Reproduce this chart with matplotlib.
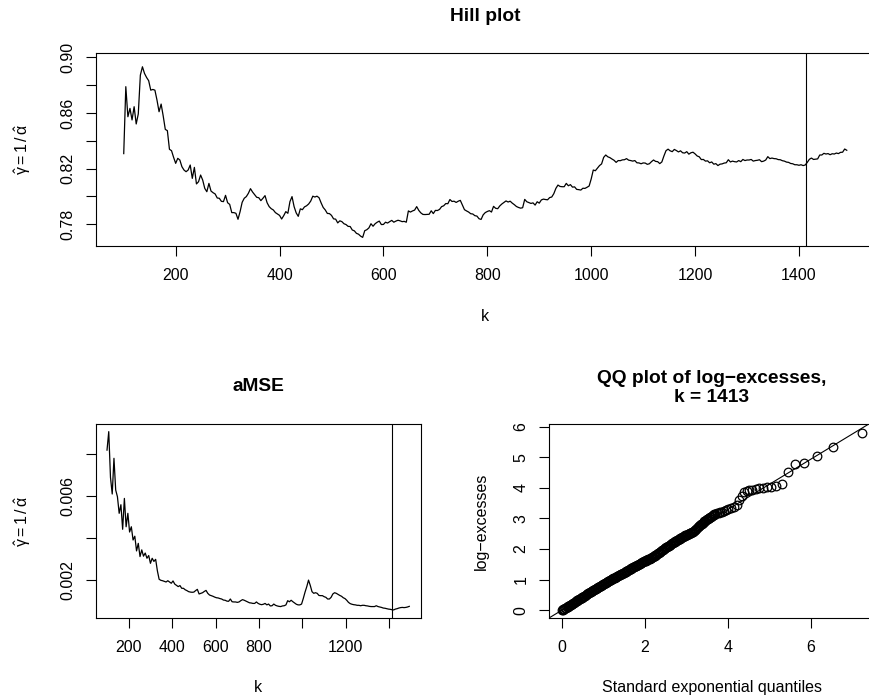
import numpy as np
import matplotlib
matplotlib.use("Agg")
import matplotlib.pyplot as plt

# === Hill estimates, k = 100, 104, ..., 1492 ===
hill_k_start = 100
hill_k_step = 4
hill_gamma = [
    0.8308, 0.8789, 0.8573, 0.8633, 0.8550, 0.8645, 0.8521, 0.8593, 0.8872, 0.8932,
    0.8884, 0.8855, 0.8832, 0.8764, 0.8769, 0.8764, 0.8693, 0.8609, 0.8664, 0.8578,
    0.8482, 0.8473, 0.8339, 0.8329, 0.8281, 0.8238, 0.8274, 0.8262, 0.8214, 0.8190,
    0.8178, 0.8190, 0.8226, 0.8130, 0.8209, 0.8090, 0.8106, 0.8154, 0.8118, 0.8058,
    0.8034, 0.8094, 0.8039, 0.8027, 0.8018, 0.7989, 0.7987, 0.7965, 0.7963, 0.8008,
    0.7955, 0.7943, 0.7884, 0.7884, 0.7879, 0.7836, 0.7891, 0.7958, 0.7987, 0.7999,
    0.8023, 0.8056, 0.8032, 0.8013, 0.7994, 0.7991, 0.7970, 0.7987, 0.8006, 0.7955,
    0.7927, 0.7912, 0.7903, 0.7884, 0.7874, 0.7864, 0.7838, 0.7862, 0.7891,
    # k = 416 ...
    0.7879, 0.7963, 0.7999, 0.7927, 0.7882, 0.7857, 0.7911, 0.7905, 0.7925, 0.7933,
    0.7946, 0.7967, 0.8002, 0.7996, 0.8002, 0.7991, 0.7954, 0.7921, 0.7903, 0.7878,
    0.7877, 0.7864, 0.7839, 0.7837, 0.7810, 0.7825, 0.7819, 0.7804, 0.7798, 0.7785,
    0.7784, 0.7759, 0.7753, 0.7735, 0.7729, 0.7715, 0.7706, 0.7754, 0.7761, 0.7774,
    0.7804, 0.7786, 0.7804, 0.7815, 0.7823, 0.7798, 0.7799, 0.7815, 0.7809, 0.7819,
    0.7828, 0.7815, 0.7823, 0.7829, 0.7825, 0.7819, 0.7821, 0.7815, 0.7896, 0.7888,
    0.7896, 0.7902, 0.7927, 0.7900, 0.7882, 0.7871, 0.7870, 0.7871, 0.7872, 0.7897,
    0.7877, 0.7900, 0.7899, 0.7907, 0.7927, 0.7933, 0.7949, 0.7948, 0.7978, 0.7964,
    0.7966, 0.7957, 0.7966, 0.7972, 0.7939, 0.7905, 0.7896,
    # k = 764 ...
    0.7888, 0.7876, 0.7874, 0.7862, 0.7859, 0.7840, 0.7835, 0.7868, 0.7884, 0.7892,
    0.7898, 0.7888, 0.7929, 0.7915, 0.7912, 0.7932, 0.7946, 0.7957, 0.7968, 0.7960,
    0.7966, 0.7952, 0.7941, 0.7928, 0.7921, 0.7916, 0.7919, 0.7979, 0.7962, 0.7956,
    0.7950, 0.7954, 0.7938, 0.7962, 0.7952, 0.7975, 0.7981, 0.7978, 0.7976, 0.7992,
    0.7996, 0.8020, 0.8058, 0.8082, 0.8072, 0.8070, 0.8070, 0.8094, 0.8077, 0.8085,
    0.8067, 0.8069, 0.8051, 0.8049, 0.8046, 0.8059, 0.8058, 0.8066, 0.8075, 0.8126,
    0.8190, 0.8185, 0.8203, 0.8222, 0.8234, 0.8281, 0.8298, 0.8285, 0.8279, 0.8269,
    0.8260, 0.8245, 0.8258, 0.8257, 0.8263, 0.8264, 0.8272, 0.8261, 0.8258, 0.8254,
    0.8258, 0.8242, 0.8241, 0.8235, 0.8241, 0.8240, 0.8231, 0.8235,
    # k = 1116 ...
    0.8250, 0.8262, 0.8252, 0.8250, 0.8236, 0.8248, 0.8291, 0.8329, 0.8340, 0.8328,
    0.8322, 0.8338, 0.8330, 0.8320, 0.8328, 0.8314, 0.8312, 0.8322, 0.8304, 0.8314,
    0.8318, 0.8306, 0.8291, 0.8285, 0.8265, 0.8266, 0.8254, 0.8256, 0.8242, 0.8248,
    0.8232, 0.8236, 0.8222, 0.8232, 0.8234, 0.8240, 0.8242, 0.8264, 0.8248, 0.8254,
    0.8250, 0.8248, 0.8258, 0.8250, 0.8266, 0.8258, 0.8262, 0.8262, 0.8266, 0.8254,
    0.8258, 0.8260, 0.8264, 0.8250, 0.8254, 0.8262, 0.8286, 0.8272, 0.8276, 0.8272,
    0.8271, 0.8265, 0.8264, 0.8257, 0.8254, 0.8247, 0.8245, 0.8237, 0.8235, 0.8228,
    0.8228, 0.8224, 0.8228, 0.8222, 0.8226, 0.8245, 0.8267, 0.8276, 0.8266, 0.8268,
    0.8270, 0.8298, 0.8298, 0.8310, 0.8305, 0.8308, 0.8300, 0.8307, 0.8305, 0.8312,
    0.8308, 0.8317, 0.8318, 0.8341, 0.8332,
]

# === aMSE, k = 100, 108, ..., 1492 ===
amse_k_start = 100
amse_k_step = 8
amse_vals = [
    0.00820, 0.00908, 0.00690, 0.00611, 0.00781, 0.00630, 0.00598, 0.00519, 0.00560, 0.00443,
    0.00590, 0.00455, 0.00519, 0.00430, 0.00455, 0.00392, 0.00410, 0.00340, 0.00376, 0.00313,
    0.00345, 0.00315, 0.00330, 0.00305, 0.00318, 0.00281, 0.00305, 0.00290, 0.00300, 0.00245,
    0.00205, 0.00200, 0.00198, 0.00195, 0.00192, 0.00198, 0.00192, 0.00186, 0.00197, 0.00182,
    0.00176, 0.00170, 0.00175, 0.00162, 0.00162, 0.00155, 0.00151, 0.00146, 0.00144, 0.00143,
    0.00144, 0.00151, 0.00157, 0.00135, 0.00138, 0.00141, 0.00147, 0.00152, 0.00138, 0.00130,
    0.00127, 0.00124, 0.00120, 0.00117, 0.00116, 0.00113, 0.00111, 0.00106, 0.00105, 0.00101,
    0.00100, 0.00111, 0.00098, 0.00097, 0.00097, 0.00095, 0.00097, 0.00103, 0.00108, 0.00105,
    0.00101, 0.00097, 0.00093, 0.00092, 0.00090, 0.00090, 0.00097, 0.00090, 0.00086,
    # k = 812 ...
    0.00084, 0.00086, 0.00090, 0.00083, 0.00087, 0.00078, 0.00079, 0.00087, 0.00081, 0.00078,
    0.00076, 0.00075, 0.00078, 0.00079, 0.00083, 0.00103, 0.00098, 0.00105, 0.00098, 0.00092,
    0.00086, 0.00083, 0.00083, 0.00087, 0.00114, 0.00144, 0.00170, 0.00201, 0.00176, 0.00146,
    0.00138, 0.00141, 0.00138, 0.00128, 0.00127, 0.00127, 0.00122, 0.00119, 0.00111, 0.00111,
    0.00119, 0.00135, 0.00141, 0.00138, 0.00133, 0.00128, 0.00124, 0.00117, 0.00113, 0.00105,
    0.00095, 0.00089, 0.00086, 0.00084, 0.00083, 0.00081, 0.00081, 0.00079, 0.00081, 0.00081,
    0.00079, 0.00078, 0.00076, 0.00075, 0.00075, 0.00075, 0.00079, 0.00075, 0.00073, 0.00071,
    0.00068, 0.00067, 0.00065, 0.00063, 0.00062, 0.00060, 0.00059, 0.00063, 0.00065, 0.00068,
    0.00070, 0.00071, 0.00070, 0.00071, 0.00073, 0.00076,
]

k_opt = 1413

# === QQ plot of log-excesses at k_opt: dense band (x 0 - 3.7), then sparser tail ===
qq_x = [
    0.00, 0.02, 0.04, 0.06, 0.08, 0.10, 0.12, 0.14, 0.16, 0.18,
    0.20, 0.22, 0.24, 0.26, 0.28, 0.30, 0.32, 0.34, 0.36, 0.38,
    0.40, 0.42, 0.44, 0.46, 0.48, 0.50, 0.52, 0.54, 0.56, 0.58,
    0.60, 0.62, 0.64, 0.66, 0.68, 0.70, 0.72, 0.74, 0.76, 0.78,
    0.80, 0.82, 0.84, 0.86, 0.88, 0.90, 0.92, 0.94, 0.96, 0.98,
    1.00, 1.02, 1.04, 1.06, 1.08, 1.10, 1.12, 1.14, 1.16, 1.18,
    1.20, 1.22, 1.24, 1.26, 1.28, 1.30, 1.32, 1.34, 1.36, 1.38,
    1.40, 1.42, 1.44, 1.46, 1.48, 1.50, 1.52, 1.54, 1.56, 1.58,
    1.60, 1.62, 1.64, 1.66, 1.68, 1.70, 1.72, 1.74, 1.76, 1.78,
    1.80, 1.82, 1.84, 1.86, 1.88, 1.90, 1.92, 1.94, 1.96, 1.98,
    2.00, 2.02, 2.04, 2.06, 2.08, 2.10, 2.12, 2.14, 2.16, 2.18,
    2.20, 2.22, 2.24, 2.26, 2.28, 2.30, 2.32, 2.34, 2.36, 2.38,
    2.40, 2.42, 2.44, 2.46, 2.48, 2.50, 2.52, 2.54, 2.56, 2.58,
    2.60, 2.62, 2.64, 2.66, 2.68, 2.70, 2.72, 2.74, 2.76, 2.78,
    2.80, 2.82, 2.84, 2.86, 2.88, 2.90, 2.92, 2.94, 2.96, 2.98,
    3.00, 3.02, 3.04, 3.06, 3.08, 3.10, 3.12, 3.14, 3.16, 3.18,
    3.20, 3.22, 3.24, 3.26, 3.28, 3.30, 3.32, 3.34, 3.36, 3.38,
    3.40, 3.42, 3.44, 3.46, 3.48, 3.50, 3.52, 3.54, 3.56, 3.58,
    3.60, 3.62, 3.64, 3.66, 3.68, 3.70,
    3.74, 3.78, 3.82, 3.86, 3.90, 3.95, 4.00,
    4.080, 4.160, 4.225, 4.281, 4.337, 4.401, 4.457, 4.522, 4.594, 4.674,
    4.755, 4.843, 4.939, 5.044, 5.156, 5.301, 5.445, 5.622, 5.847, 6.144,
    6.546, 7.228,
]
qq_y = [
    0.010, 0.020, 0.035, 0.048, 0.066, 0.080, 0.095, 0.112, 0.130, 0.152,
    0.170, 0.186, 0.202, 0.218, 0.234, 0.250, 0.268, 0.288, 0.308, 0.324,
    0.340, 0.356, 0.372, 0.390, 0.410, 0.430, 0.446, 0.462, 0.480, 0.500,
    0.520, 0.536, 0.552, 0.568, 0.584, 0.600, 0.616, 0.632, 0.650, 0.670,
    0.690, 0.706, 0.722, 0.738, 0.754, 0.770, 0.786, 0.802, 0.818, 0.834,
    0.850, 0.866, 0.882, 0.898, 0.914, 0.930, 0.946, 0.962, 0.978, 0.994,
    1.010, 1.026, 1.042, 1.056, 1.068, 1.080, 1.096, 1.112, 1.128, 1.144,
    1.160, 1.174, 1.186, 1.198, 1.214, 1.230, 1.246, 1.262, 1.278, 1.294,
    1.310, 1.326, 1.342, 1.358, 1.374, 1.390, 1.406, 1.422, 1.436, 1.448,
    1.460, 1.476, 1.492, 1.508, 1.524, 1.540, 1.556, 1.572, 1.586, 1.598,
    1.610, 1.622, 1.634, 1.648, 1.664, 1.680, 1.692, 1.704, 1.718, 1.734,
    1.750, 1.766, 1.782, 1.800, 1.820, 1.840, 1.860, 1.880, 1.900, 1.920,
    1.940, 1.960, 1.980, 2.000, 2.020, 2.040, 2.060, 2.080, 2.098, 2.114,
    2.130, 2.150, 2.170, 2.188, 2.204, 2.220, 2.240, 2.260, 2.278, 2.294,
    2.310, 2.326, 2.342, 2.358, 2.374, 2.390, 2.406, 2.422, 2.436, 2.448,
    2.460, 2.472, 2.484, 2.498, 2.514, 2.530, 2.542, 2.554, 2.568, 2.588,
    2.610, 2.638, 2.666, 2.692, 2.716, 2.740, 2.764, 2.788, 2.812, 2.836,
    2.860, 2.884, 2.908, 2.930, 2.950, 2.970, 2.990, 3.010, 3.028, 3.044,
    3.060, 3.084, 3.108, 3.128, 3.144, 3.160,
    3.178, 3.192, 3.208, 3.224, 3.240, 3.270, 3.300,
    3.33, 3.39, 3.44, 3.605, 3.735, 3.866, 3.888, 3.921, 3.942, 3.964,
    3.986, 4.008, 4.019, 4.040, 4.062, 4.117, 4.509, 4.781, 4.803, 5.053,
    5.326, 5.783,
]

hill_k = hill_k_start + hill_k_step * np.arange(len(hill_gamma))
amse_k = amse_k_start + amse_k_step * np.arange(len(amse_vals))
gamma_opt = hill_gamma[int(np.argmin(np.abs(hill_k - k_opt)))]

# === style: mimic R base graphics ===
plt.rcParams['font.family'] = ['Liberation Sans', 'DejaVu Sans']
plt.rcParams['mathtext.fontset'] = 'custom'
plt.rcParams['mathtext.rm'] = 'Liberation Sans'
plt.rcParams['mathtext.it'] = 'Liberation Sans:italic'
plt.rcParams['mathtext.default'] = 'regular'

W, H = 869, 698
fig = plt.figure(figsize=(W / 100, H / 100), dpi=100)


def add_box(left, top, right, bottom):
    return fig.add_axes([left / W, 1 - bottom / H, (right - left) / W, (bottom - top) / H])


def r_style(ax, xticks, xlabels, yticks, ylabels):
    ax.set_xticks(xticks)
    ax.set_xticklabels(xlabels)
    ax.set_yticks(yticks)
    ax.set_yticklabels(ylabels, rotation=90, va='center')
    ax.tick_params(direction='out', length=7.2, width=0.8, labelsize=11.5, color='black')
    ax.tick_params(axis='x', pad=8.6)
    ax.tick_params(axis='y', pad=7.7)
    for s in ax.spines.values():
        s.set_linewidth(0.8)
        s.set_color('black')


lab_fs = 11.5
title_fs = 13.8
ylab = r'$\hat{\gamma} = 1\,/\,\hat{\alpha}$'

# --- Hill plot ---
ax1 = add_box(96, 53, 874.8, 246)
ax1.plot(hill_k, hill_gamma, color='black', lw=0.9)
ax1.axvline(k_opt, color='black', lw=0.8)
ax1.set_xlim(46.6, 1546)
ax1.set_ylim(0.7644, 0.9031)
r_style(ax1, [200, 400, 600, 800, 1000, 1200, 1400],
        ['200', '400', '600', '800', '1000', '1200', '1400'],
        [0.78, 0.80, 0.82, 0.84, 0.86, 0.88, 0.90],
        ['0.78', '', '0.82', '', '0.86', '', '0.90'])
ax1.text(0.5, 1.19, 'Hill plot', transform=ax1.transAxes, ha='center', va='center',
         fontsize=title_fs, fontweight='bold')
ax1.set_xlabel('k', fontsize=lab_fs)
ax1.xaxis.set_label_coords(0.5, -0.363)
ax1.xaxis.label.set_va('center')
ax1.set_ylabel(ylab, fontsize=lab_fs)
ax1.yaxis.set_label_coords(-0.0944, 0.5)
ax1.yaxis.label.set_va('center')

# --- aMSE ---
ax2 = add_box(96, 424.3, 420.7, 617.7)
ax2.plot(amse_k, amse_vals, color='black', lw=0.9)
ax2.axvline(k_opt, color='black', lw=0.8)
ax2.set_xlim(49.3, 1544.6)
ax2.set_ylim(0.00022, 0.009429)
r_style(ax2, [200, 400, 600, 800, 1000, 1200, 1400],
        ['200', '400', '600', '800', '', '1200', ''],
        [0.002, 0.004, 0.006, 0.008],
        ['0.002', '', '0.006', ''])
ax2.text(0.5, 1.198, 'aMSE', transform=ax2.transAxes, ha='center', va='center',
         fontsize=title_fs, fontweight='bold')
ax2.set_xlabel('k', fontsize=lab_fs)
ax2.xaxis.set_label_coords(0.5, -0.362)
ax2.xaxis.label.set_va('center')
ax2.set_ylabel(ylab, fontsize=lab_fs)
ax2.yaxis.set_label_coords(-0.2264, 0.5)
ax2.yaxis.label.set_va('center')

# --- QQ plot ---
ax3 = add_box(549.3, 424.3, 874.6, 617.7)
ax3.plot(qq_x, qq_y, linestyle='none', marker='o', markersize=6.2,
         markerfacecolor='none', markeredgecolor='black', markeredgewidth=0.9)
ax3.axline((0, 0), slope=gamma_opt, color='black', lw=0.8)
ax3.set_xlim(-0.299, 7.54)
ax3.set_ylim(-0.242, 6.078)
r_style(ax3, [0, 2, 4, 6], ['0', '2', '4', '6'],
        [0, 1, 2, 3, 4, 5, 6], ['0', '1', '2', '3', '4', '5', '6'])
ax3.text(0.5, 1.19, 'QQ plot of log\u2212excesses,\nk = %d' % k_opt,
         transform=ax3.transAxes, ha='center', va='center', linespacing=1.15,
         fontsize=title_fs, fontweight='bold')
ax3.set_xlabel('Standard exponential quantiles', fontsize=lab_fs)
ax3.xaxis.set_label_coords(0.5, -0.362)
ax3.xaxis.label.set_va('center')
ax3.set_ylabel('log\u2212excesses', fontsize=lab_fs)
ax3.yaxis.set_label_coords(-0.2098, 0.5)
ax3.yaxis.label.set_va('center')

fig.savefig('out.png', dpi=100)
